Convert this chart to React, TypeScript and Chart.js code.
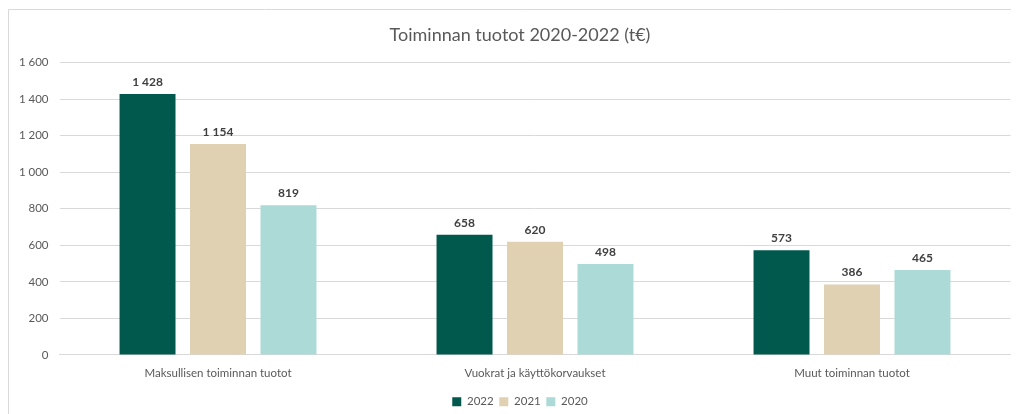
import React, { useEffect, useRef } from "react";
import { Chart, registerables } from "chart.js";

Chart.register(...registerables);

const categories = ["Maksullisen toiminnan tuotot", "Vuokrat ja käyttökorvaukset", "Muut toiminnan tuotot"];
const seriesNames = ["2022", "2021", "2020"];
const values2022 = [1428, 658, 573];
const values2021 = [1154, 620, 386];
const values2020 = [819, 498, 465];
const colors = ["#00594c", "#dfd1b2", "#acdad6"];
const titleText = "Toiminnan tuotot 2020-2022 (t€)";

const FONT = "Lato, 'Open Sans', sans-serif";

function fmt(v: number): string {
  return String(Math.round(v)).replace(/\B(?=(\d{3})+(?!\d))/g, " ");
}

const borderPlugin = {
  id: "frame",
  beforeDraw(chart: any) {
    const ctx = chart.ctx;
    ctx.save();
    ctx.fillStyle = "#ffffff";
    ctx.fillRect(0, 0, chart.width, chart.height);
    ctx.strokeStyle = "#d9d9d9";
    ctx.lineWidth = 1;
    ctx.beginPath();
    ctx.moveTo(0.5, chart.height);
    ctx.lineTo(0.5, 1.5);
    ctx.lineTo(chart.width, 1.5);
    ctx.stroke();
    ctx.restore();
  },
};

const labelPlugin = {
  id: "valueLabels",
  afterDatasetsDraw(chart: any) {
    const ctx = chart.ctx;
    ctx.save();
    ctx.font = `bold 12px ${FONT}`;
    ctx.fillStyle = "#404040";
    ctx.textAlign = "center";
    ctx.textBaseline = "bottom";
    chart.data.datasets.forEach((ds: any, i: number) => {
      const meta = chart.getDatasetMeta(i);
      meta.data.forEach((bar: any, j: number) => {
        ctx.fillText(fmt(ds.data[j]), bar.x, bar.y - 6);
      });
    });
    ctx.restore();
  },
};

export default function App() {
  const ref = useRef<HTMLCanvasElement>(null);
  useEffect(() => {
    if (!ref.current) return;
    const data = [values2022, values2021, values2020];
    const chart = new Chart(ref.current, {
      type: "bar",
      data: {
        labels: categories,
        datasets: seriesNames.map((n, i) => ({
          label: n,
          data: data[i],
          backgroundColor: colors[i],
          borderWidth: 0,
          categoryPercentage: 0.667,
          barPercentage: 0.794,
          yAxisID: "y",
        })),
      },
      options: {
        animation: false,
        responsive: true,
        maintainAspectRatio: false,
        layout: { padding: { left: 0, right: 0, top: 0, bottom: -3.5 } },
        plugins: {
          title: {
            display: true,
            text: titleText,
            color: "#595959",
            font: { family: FONT, size: 18, weight: "normal" },
            padding: { top: 16, bottom: 17 },
          },
          legend: {
            position: "bottom",
            labels: {
              boxWidth: 9,
              boxHeight: 9,
              padding: 5.6,
              color: "#595959",
              font: { family: FONT, size: 11.5 },
            },
          },
          tooltip: { enabled: false },
        },
        scales: {
          x: {
            grid: { display: false },
            border: { color: "#d9d9d9" },
            ticks: { color: "#595959", font: { family: FONT, size: 11.5 }, padding: 3 },
            afterFit: (s: any) => { s.height = 35.5; },
          },
          y: {
            min: 0,
            max: 1600,
            ticks: {
              stepSize: 200,
              color: "#595959",
              font: { family: FONT, size: 11.5 },
              padding: 11,
              callback: (v: any) => fmt(Number(v)),
            },
            grid: { color: "#d9d9d9", drawTicks: false },
            border: { display: false },
            afterFit: (s: any) => { s.width = 51.5; },
          },
          yPad: {
            position: "right",
            display: true,
            min: 0,
            max: 1,
            ticks: { display: false },
            grid: { display: false, drawTicks: false },
            border: { display: false },
            afterFit: (s: any) => { s.width = 21.5; },
          },
        },
      },
      plugins: [borderPlugin, labelPlugin],
    });
    return () => chart.destroy();
  }, []);
  return (
    <div style={{ width: 1011, height: 406, overflow: "hidden" }}>
      <div style={{ position: "relative", width: 1024, height: 406 }}>
        <canvas ref={ref} />
      </div>
    </div>
  );
}
